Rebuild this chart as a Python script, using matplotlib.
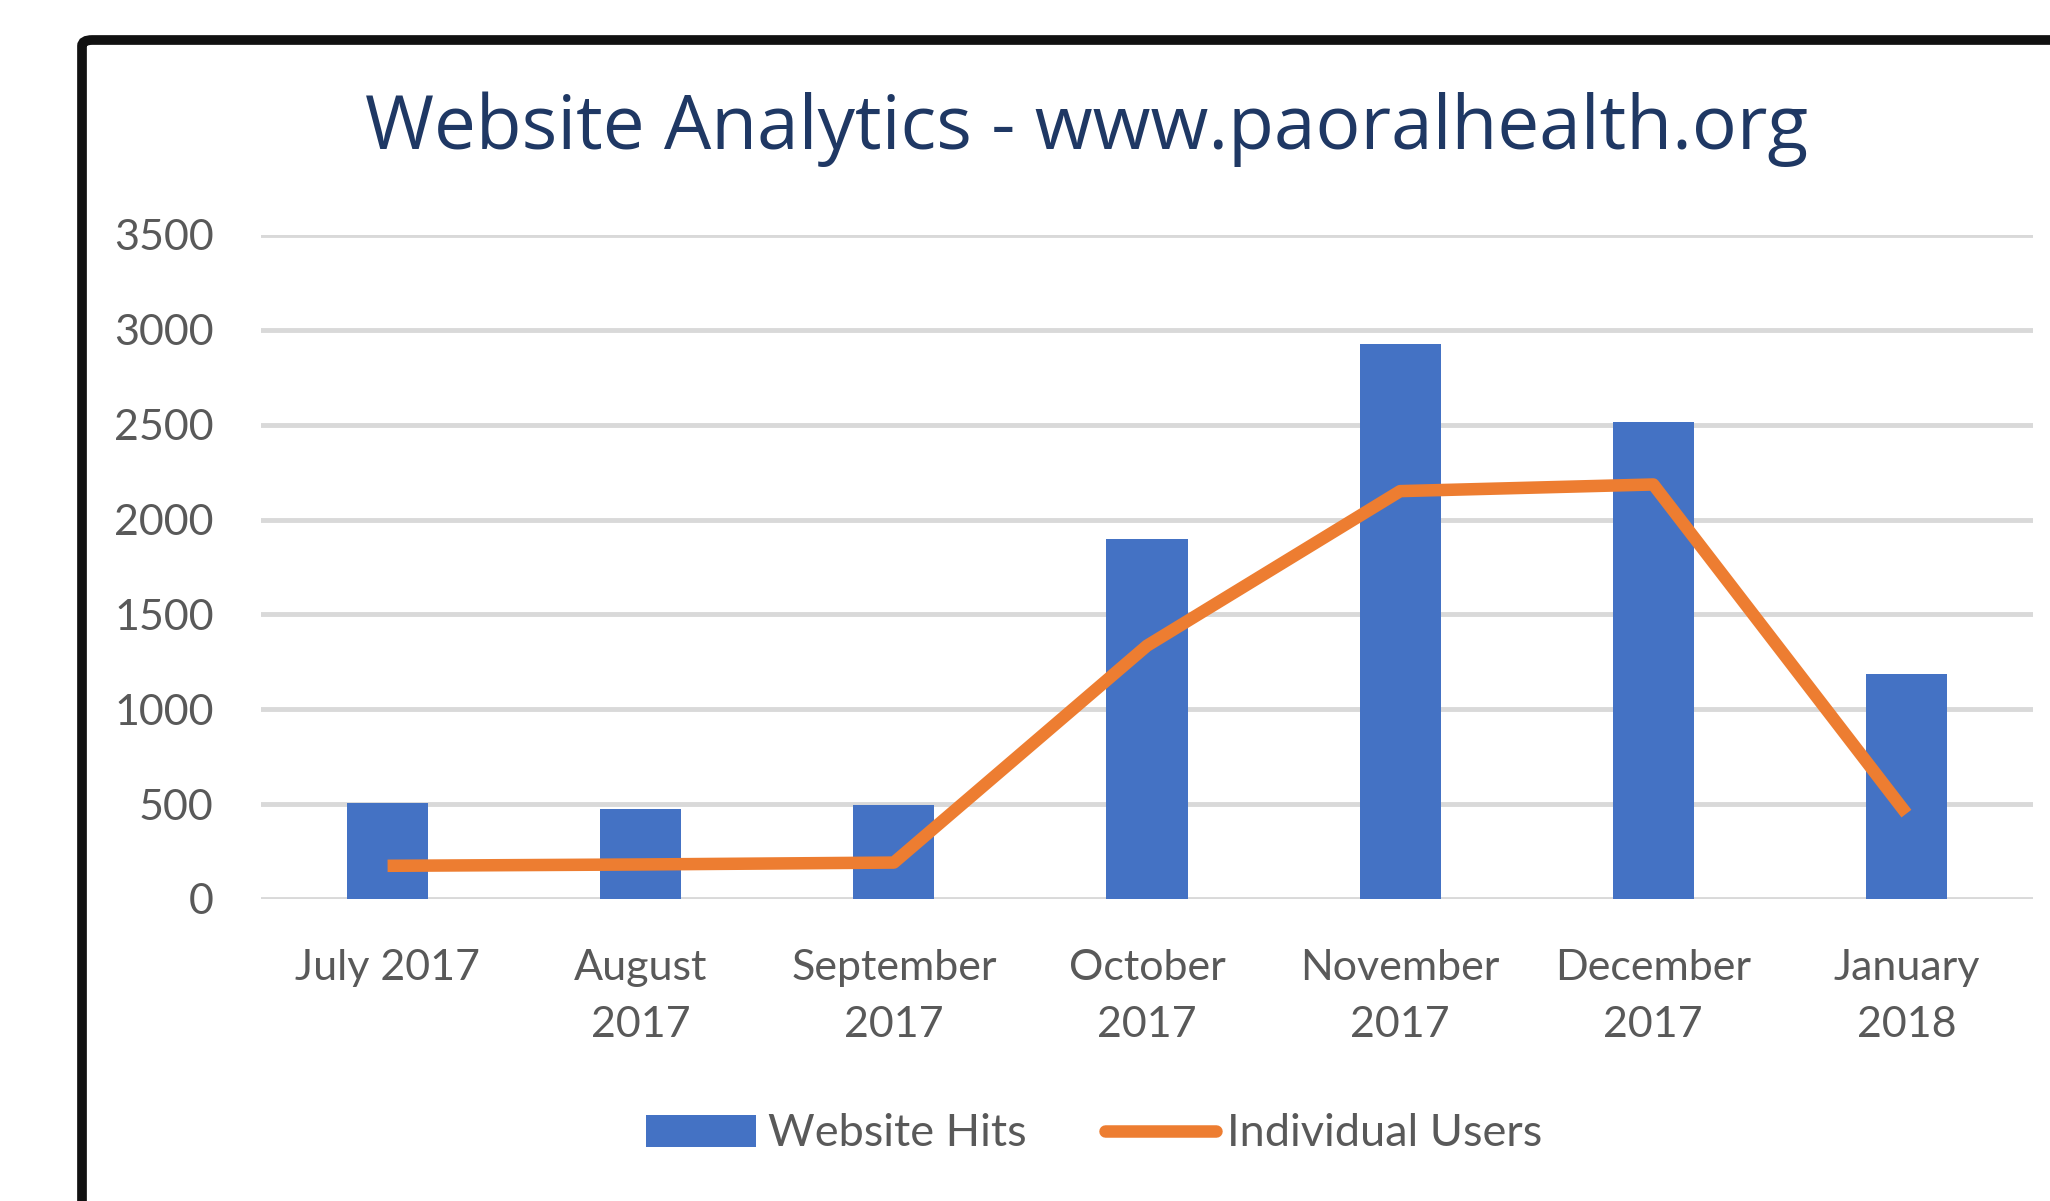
import matplotlib
matplotlib.use("Agg")
import matplotlib.pyplot as plt
from matplotlib.patches import FancyBboxPatch, Patch
from matplotlib.lines import Line2D

categories = ["July 2017", "August\n2017", "September\n2017", "October\n2017",
              "November\n2017", "December\n2017", "January\n2018"]
website_hits = [505, 475, 495, 1895, 2925, 2515, 1185]
individual_users = [175, 182, 192, 1335, 2150, 2185, 450]
y_ticks = [0, 500, 1000, 1500, 2000, 2500, 3000, 3500]
title = "Website Analytics - www.paoralhealth.org"

W, H = 2050, 1201
dpi = 100
fig = plt.figure(figsize=(W / dpi, H / dpi), dpi=dpi)
fig.patch.set_facecolor("white")

# axes placement (pixels)
left, right, top, bottom = 261, 2033, 235, 899
ax = fig.add_axes([left / W, 1 - bottom / H, (right - left) / W, (bottom - top) / H])

x = list(range(len(categories)))
blue = "#4472C4"
orange = "#ED7D31"
grid = "#D9D9D9"
txt = "#595959"

ax.bar(x, website_hits, width=0.32, color=blue, zorder=3)
ax.plot(x, individual_users, color=orange, lw=9, solid_capstyle="butt",
        solid_joinstyle="round", zorder=4)

ax.set_ylim(0, 3500)
ax.set_xlim(-0.5, len(categories) - 0.5)
ax.set_yticks(y_ticks)
ax.set_yticklabels([str(v) for v in y_ticks])
ax.yaxis.grid(True, color=grid, lw=3.5, zorder=1)
ax.set_axisbelow(True)
for s in ax.spines.values():
    s.set_visible(False)
ax.tick_params(axis="both", length=0, colors=txt)
ax.tick_params(axis="y", pad=34, labelsize=31)
ax.set_xticks(x)
ax.set_xticklabels(categories, fontsize=31, linespacing=1.6)
ax.tick_params(axis="x", pad=36)
for lab in ax.get_xticklabels() + ax.get_yticklabels():
    lab.set_family("Lato")
    lab.set_color(txt)

fig.text(0.530, 1 - 129 / H, title, ha="center", va="center",
         fontsize=53.8, color="#1F3864", family="Open Sans")

handles = [Patch(facecolor=blue, edgecolor="none"),
           Line2D([0], [0], color=orange, lw=9, solid_capstyle="round")]
leg = fig.legend(handles, ["Website Hits", "Individual Users"],
                 loc="center", bbox_to_anchor=(1094 / W, 1 - 1134 / H),
                 ncol=2, frameon=False, handlelength=2.45, handleheight=0.72,
                 handletextpad=0.25, columnspacing=1.75,
                 prop={"family": "Lato", "size": 32.5})
for t in leg.get_texts():
    t.set_color(txt)

# black rounded frame extending off the right and bottom
frame = FancyBboxPatch((82 / W, -0.2), 1.2, 1 - 40 / H + 0.2,
                       boxstyle="round,pad=0,rounding_size=0.005",
                       transform=fig.transFigure, fill=False,
                       edgecolor="#111111", lw=7, zorder=10)
fig.patches.append(frame)

fig.savefig("out.png", dpi=dpi, facecolor="white")
